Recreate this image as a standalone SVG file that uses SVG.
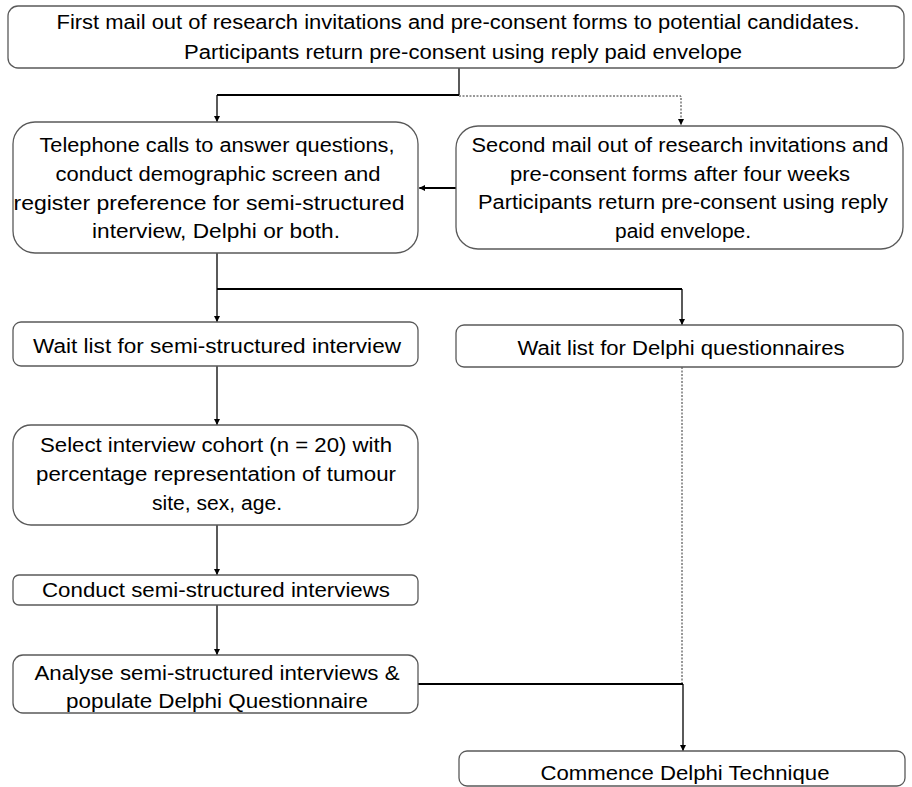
<svg xmlns="http://www.w3.org/2000/svg" width="912" height="787" viewBox="0 0 912 787">
<style>
.box{fill:#fff;stroke:#595959;stroke-width:1.3}
.t{font-family:"Liberation Sans","Arial",sans-serif;font-size:20px;fill:#000;text-anchor:middle}
.c{fill:none;stroke:#000;stroke-width:1.3}
.thick{stroke-width:2.2}
.dot{stroke-dasharray:2 1.5;stroke-width:1;stroke:#333}
</style>
<defs>
<marker id="ah" viewBox="0 0 8 8" refX="8" refY="4" markerWidth="6" markerHeight="6" markerUnits="userSpaceOnUse" orient="auto">
<path d="M0,0 L8,4 L0,8 z" fill="#000"/>
</marker>
</defs>
<rect width="912" height="787" fill="#fff"/>
<g id="connectors">
<path class="c" d="M459,68 V95"/>
<path class="c thick" d="M459,95 H217"/>
<path class="c" d="M217,95 V122" marker-end="url(#ah)"/>
<path class="c dot" d="M459,96 H681 V125" marker-end="url(#ah)"/>
<path class="c thick" d="M456,188 H420"/>
<path class="c" d="M430,188 H419" marker-end="url(#ah)"/>
<path class="c" d="M217,253 V322" marker-end="url(#ah)"/>
<path class="c thick" d="M217,289 H682"/>
<path class="c" d="M682,289 V325" marker-end="url(#ah)"/>
<path class="c" d="M217,366 V425" marker-end="url(#ah)"/>
<path class="c" d="M217,525 V575" marker-end="url(#ah)"/>
<path class="c" d="M217,605 V655" marker-end="url(#ah)"/>
<path class="c dot" d="M682,367 V684"/>
<path class="c thick" d="M418,684 H683"/>
<path class="c" d="M683,684 V751" marker-end="url(#ah)"/>
</g>
<g id="n1">
<rect class="box" x="8" y="6" width="896" height="62" rx="10"/>
<text class="t" x="458" y="29" textLength="803" lengthAdjust="spacingAndGlyphs">First mail out of research invitations and pre-consent forms to potential candidates.</text>
<text class="t" x="463" y="59" textLength="558" lengthAdjust="spacingAndGlyphs">Participants return pre-consent using reply paid envelope</text>
</g>
<g id="n2">
<rect class="box" x="13" y="122" width="405" height="131" rx="22"/>
<text class="t" x="217" y="152" textLength="355" lengthAdjust="spacingAndGlyphs">Telephone calls to answer questions,</text>
<text class="t" x="218" y="181" textLength="325" lengthAdjust="spacingAndGlyphs">conduct demographic screen and</text>
<text class="t" x="209" y="210" textLength="391" lengthAdjust="spacingAndGlyphs">register preference for semi-structured</text>
<text class="t" x="216" y="238" textLength="248" lengthAdjust="spacingAndGlyphs">interview, Delphi or both.</text>
</g>
<g id="n3">
<rect class="box" x="456" y="126" width="447" height="123" rx="22"/>
<text class="t" x="680" y="152" textLength="417" lengthAdjust="spacingAndGlyphs">Second mail out of research invitations and</text>
<text class="t" x="680" y="181" textLength="340" lengthAdjust="spacingAndGlyphs">pre-consent forms after four weeks</text>
<text class="t" x="683" y="209" textLength="410" lengthAdjust="spacingAndGlyphs">Participants return pre-consent using reply</text>
<text class="t" x="683" y="238" textLength="136" lengthAdjust="spacingAndGlyphs">paid envelope.</text>
</g>
<g id="n4">
<rect class="box" x="13" y="322" width="405" height="44" rx="8"/>
<text class="t" x="217" y="353" textLength="368" lengthAdjust="spacingAndGlyphs">Wait list for semi-structured interview</text>
</g>
<g id="n5">
<rect class="box" x="456" y="325" width="447" height="42" rx="8"/>
<text class="t" x="681" y="355" textLength="327" lengthAdjust="spacingAndGlyphs">Wait list for Delphi questionnaires</text>
</g>
<g id="n6">
<rect class="box" x="13" y="425" width="405" height="100" rx="18"/>
<text class="t" x="216" y="452" textLength="352" lengthAdjust="spacingAndGlyphs">Select interview cohort (n = 20) with</text>
<text class="t" x="216" y="481" textLength="360" lengthAdjust="spacingAndGlyphs">percentage representation of tumour</text>
<text class="t" x="217" y="510" textLength="130" lengthAdjust="spacingAndGlyphs">site, sex, age.</text>
</g>
<g id="n7">
<rect class="box" x="13" y="575" width="405" height="30" rx="6"/>
<text class="t" x="216" y="597" textLength="348" lengthAdjust="spacingAndGlyphs">Conduct semi-structured interviews</text>
</g>
<g id="n8">
<rect class="box" x="13" y="655" width="405" height="58" rx="10"/>
<text class="t" x="217" y="680" textLength="365" lengthAdjust="spacingAndGlyphs">Analyse semi-structured interviews &amp;</text>
<text class="t" x="217" y="708" textLength="302" lengthAdjust="spacingAndGlyphs">populate Delphi Questionnaire</text>
</g>
<g id="n9">
<rect class="box" x="459" y="751" width="446" height="35" rx="8"/>
<text class="t" x="685" y="780" textLength="289" lengthAdjust="spacingAndGlyphs">Commence Delphi Technique</text>
</g>
</svg>
